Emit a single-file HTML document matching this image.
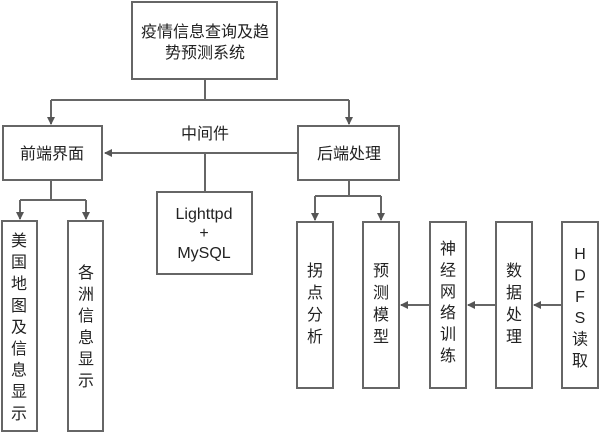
<!DOCTYPE html>
<html><head><meta charset="utf-8"><style>
html,body{margin:0;padding:0;background:#fff;}
svg{display:block;}
text{font-family:"Liberation Sans","Noto Sans CJK SC",sans-serif;fill:#222;}
</style></head><body>
<svg width="600" height="433" viewBox="0 0 600 433" xmlns="http://www.w3.org/2000/svg">
<defs><marker id="a" markerWidth="8" markerHeight="8" refX="7" refY="4" orient="auto" markerUnits="userSpaceOnUse"><path d="M0,0 L8,4 L0,8 z" fill="#555"/></marker></defs>
<g fill="#fff" stroke="#666" stroke-width="2">
<rect x="132" y="2" width="145" height="77"/>
<rect x="3" y="126" width="99" height="54"/>
<rect x="298" y="126" width="101" height="54"/>
<rect x="157" y="192" width="95" height="82"/>
<rect x="2" y="221" width="35" height="210"/>
<rect x="68" y="221" width="35" height="210"/>
<rect x="297" y="222" width="36" height="166"/>
<rect x="363" y="222" width="36" height="166"/>
<rect x="430" y="222" width="36" height="166"/>
<rect x="496" y="222" width="36" height="166"/>
<rect x="562" y="222" width="36" height="166"/>
</g>
<g fill="none" stroke="#666" stroke-width="2">
<path d="M205 79 V100 M51 100 H349"/>
<path d="M51 100 V124" marker-end="url(#a)"/>
<path d="M349 100 V124" marker-end="url(#a)"/>
<path d="M298 153 H105" marker-end="url(#a)"/>
<path d="M205 153 V192"/>
<path d="M51 180 V200 M20 200 H86"/>
<path d="M20 200 V219" marker-end="url(#a)"/>
<path d="M86 200 V219" marker-end="url(#a)"/>
<path d="M349 180 V196 M315 196 H381"/>
<path d="M315 196 V220" marker-end="url(#a)"/>
<path d="M381 196 V220" marker-end="url(#a)"/>
<path d="M430 305 H401" marker-end="url(#a)"/>
<path d="M496 305 H468" marker-end="url(#a)"/>
<path d="M562 305 H534" marker-end="url(#a)"/>
</g>
<g font-size="16" text-anchor="middle">
<text x="205" y="37">疫情信息查询及趋</text>
<text x="205" y="58">势预测系统</text>
<text x="52" y="159">前端界面</text>
<text x="349" y="159">后端处理</text>
<text x="205" y="139">中间件</text>
<text x="204" y="219">Lighttpd</text>
<text x="204" y="238">+</text>
<text x="204" y="258">MySQL</text>
</g>
<g font-size="16" text-anchor="middle">
<text><tspan x="19" y="246">美</tspan><tspan x="19" dy="21.6">国</tspan><tspan x="19" dy="21.6">地</tspan><tspan x="19" dy="21.6">图</tspan><tspan x="19" dy="21.6">及</tspan><tspan x="19" dy="21.6">信</tspan><tspan x="19" dy="21.6">息</tspan><tspan x="19" dy="21.6">显</tspan><tspan x="19" dy="21.6">示</tspan></text>
<text><tspan x="86" y="278">各</tspan><tspan x="86" dy="21.6">洲</tspan><tspan x="86" dy="21.6">信</tspan><tspan x="86" dy="21.6">息</tspan><tspan x="86" dy="21.6">显</tspan><tspan x="86" dy="21.6">示</tspan></text>
<text><tspan x="315" y="276">拐</tspan><tspan x="315" dy="22">点</tspan><tspan x="315" dy="22">分</tspan><tspan x="315" dy="22">析</tspan></text>
<text><tspan x="381" y="276">预</tspan><tspan x="381" dy="22">测</tspan><tspan x="381" dy="22">模</tspan><tspan x="381" dy="22">型</tspan></text>
<text><tspan x="448" y="254">神</tspan><tspan x="448" dy="21.4">经</tspan><tspan x="448" dy="21.4">网</tspan><tspan x="448" dy="21.4">络</tspan><tspan x="448" dy="21.4">训</tspan><tspan x="448" dy="21.4">练</tspan></text>
<text><tspan x="514" y="276">数</tspan><tspan x="514" dy="22">据</tspan><tspan x="514" dy="22">处</tspan><tspan x="514" dy="22">理</tspan></text>
<text><tspan x="580" y="259">H</tspan><tspan x="580" dy="21.4">D</tspan><tspan x="580" dy="21.4">F</tspan><tspan x="580" dy="21.4">S</tspan><tspan x="580" dy="21.4">读</tspan><tspan x="580" dy="21.4">取</tspan></text>
</g>
</svg>
</body></html>
